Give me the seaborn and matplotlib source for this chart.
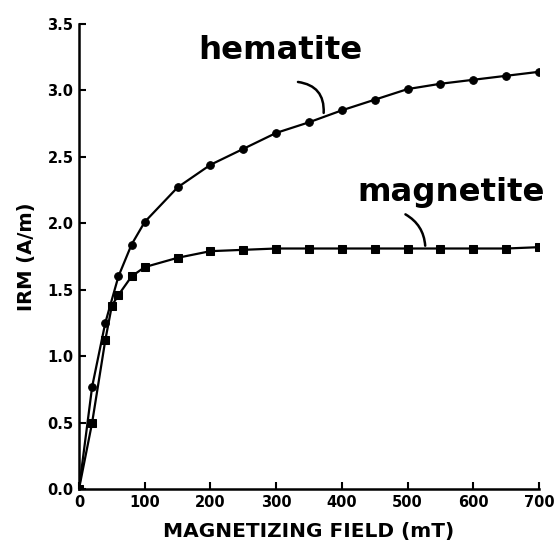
import matplotlib
matplotlib.use("Agg")
import matplotlib.pyplot as plt
import seaborn as sns
import pandas as pd

# IRM acquisition curves
hematite_field = [0, 20, 40, 60, 80, 100, 150, 200, 250, 300, 350, 400, 450, 500, 550, 600, 650, 700]
hematite_irm = [0.0, 0.77, 1.25, 1.60, 1.84, 2.01, 2.27, 2.44, 2.56, 2.68, 2.76, 2.85, 2.93, 3.01, 3.05, 3.08, 3.11, 3.14]

magnetite_field = [0, 20, 40, 50, 60, 80, 100, 150, 200, 250, 300, 350, 400, 450, 500, 550, 600, 650, 700]
magnetite_irm = [0.0, 0.50, 1.12, 1.38, 1.46, 1.60, 1.67, 1.74, 1.79, 1.80, 1.81, 1.81, 1.81, 1.81, 1.81, 1.81, 1.81, 1.81, 1.82]

x_ticks = [0, 100, 200, 300, 400, 500, 600, 700]
y_ticks = [0.0, 0.5, 1.0, 1.5, 2.0, 2.5, 3.0, 3.5]

df = pd.concat([
    pd.DataFrame({"field": hematite_field, "irm": hematite_irm, "mineral": "hematite"}),
    pd.DataFrame({"field": magnetite_field, "irm": magnetite_irm, "mineral": "magnetite"}),
], ignore_index=True)

sns.set_theme(style="ticks")
plt.rcParams["font.family"] = ["DejaVu Sans"]
for key in ("text.color", "axes.labelcolor", "xtick.color", "ytick.color", "axes.edgecolor"):
    plt.rcParams[key] = "black"

fig = plt.figure(figsize=(5.54, 5.45), dpi=100)
ax = fig.add_axes([0.1426, 0.1028, 0.8304, 0.8532])

sns.lineplot(
    data=df, x="field", y="irm", hue="mineral", style="mineral",
    palette={"hematite": "black", "magnetite": "black"},
    markers={"hematite": "o", "magnetite": "s"}, dashes=False,
    markersize=5.5, markeredgecolor="black", linewidth=1.6,
    legend=False, sort=False, ax=ax,
)

ax.set_xlim(0, 700)
ax.set_ylim(0, 3.5)
ax.set_xticks(x_ticks)
ax.set_yticks(y_ticks)
ax.set_xticklabels([str(t) for t in x_ticks], fontsize=10.5, fontweight="bold")
ax.set_yticklabels([f"{t:.1f}" for t in y_ticks], fontsize=10.5, fontweight="bold")
ax.tick_params(direction="in", length=5, width=1.5, color="black", pad=4)
for side in ("top", "right"):
    ax.spines[side].set_visible(False)
for side in ("left", "bottom"):
    ax.spines[side].set_linewidth(1.8)

ax.set_xlabel("MAGNETIZING FIELD (mT)", fontsize=14.5, fontweight="bold", labelpad=9)
ax.set_ylabel("IRM (A/m)", fontsize=14, fontweight="bold", labelpad=8)

label_font = dict(family="DejaVu Sans", fontsize=23.3, fontweight="bold",
                  va="baseline", color="black")
ax.text(181, 3.234, "hematite", **label_font)
ax.text(423, 2.17, "magnetite", **label_font)

ax.annotate("", xy=(372, 2.81), xytext=(329, 3.066),
            arrowprops=dict(arrowstyle="-", color="black", lw=1.8,
                            connectionstyle="arc3,rad=-0.5"))
ax.annotate("", xy=(527, 1.81), xytext=(493, 2.077),
            arrowprops=dict(arrowstyle="-", color="black", lw=1.8,
                            connectionstyle="arc3,rad=-0.3"))

fig.savefig("out.png", dpi=100, facecolor="white")
